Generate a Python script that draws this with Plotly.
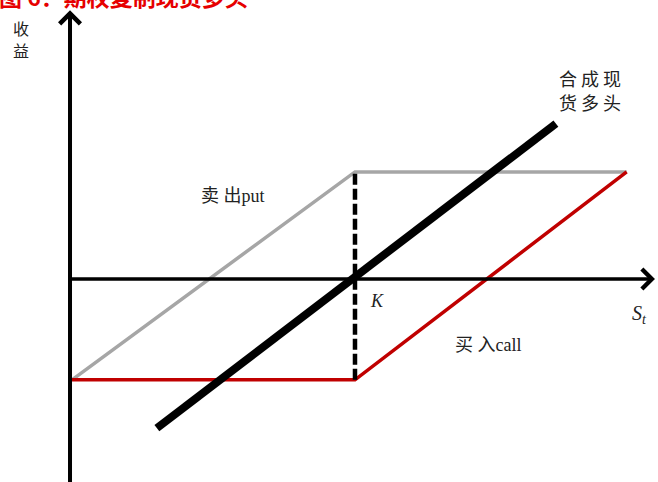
import plotly.graph_objects as go

# payoff diagram, strike K = 100
put_s = [0, 100, 196]
put_pay = [-48, 51, 51]      # short put (grey)
call_s = [0, 100, 196]
call_pay = [-48, -48, 51]    # long call (red)
spot_s = [30, 171]
spot_pay = [-71, 74]         # synthetic long spot (black)
strike = 100
strike_top = 51
strike_bottom = -48

CJK = "Noto Sans CJK SC"
SERIF = "Liberation Serif, Noto Sans CJK SC"

fig = go.Figure()

fig.add_trace(go.Scatter(x=put_s, y=put_pay, mode="lines",
                         line=dict(color="#a6a6a6", width=3.5)))
fig.add_trace(go.Scatter(x=call_s, y=call_pay, mode="lines",
                         line=dict(color="#c00000", width=3.5)))
fig.add_trace(go.Scatter(x=[strike, strike], y=[strike_bottom, strike_top], mode="lines",
                         line=dict(color="black", width=4.5, dash="11px,4px")))
fig.add_trace(go.Scatter(x=spot_s, y=spot_pay, mode="lines",
                         line=dict(color="black", width=8)))

ann = []
# axes with open arrow heads
ann.append(dict(x=-0.7, y=128, ax=-0.7, ay=-100, xref="x", yref="y", axref="x", ayref="y",
                text="", showarrow=True, arrowhead=4, arrowwidth=4, arrowsize=1,
                arrowcolor="black"))
ann.append(dict(x=206, y=0, ax=-0.7, ay=0, xref="x", yref="y", axref="x", ayref="y",
                text="", showarrow=True, arrowhead=4, arrowwidth=3.5, arrowsize=1.1,
                arrowcolor="black"))

labels = [
    ("收", -18, 119.5, CJK, 16),
    ("益", -18, 109, CJK, 16),
    ("卖 出put", 57, 39.5, SERIF, 18),
    ("买 入call", 147, -31.4, SERIF, 18),
    ("合 成 现", 183, 95.5, CJK, 18),
    ("货 多 头", 183, 84.5, CJK, 18),
    ("<i>K</i>", 107.8, -10.5, SERIF, 18),
    ("<i>S</i><sub><i>t</i></sub>", 200.7, -17, SERIF, 20),
]
for txt, sx, py, fam, size in labels:
    ann.append(dict(x=sx, y=py, xref="x", yref="y", text=txt, showarrow=False,
                    font=dict(family=fam, size=size, color="#222222")))

ann.append(dict(x=0, y=1, xref="paper", yref="paper", xanchor="left", yanchor="middle",
                xshift=-3, yshift=4, text="<b>图 6：期权复制现货多头</b>", showarrow=False,
                font=dict(family=CJK, size=23, color="#e60000")))

fig.update_layout(
    width=658, height=482,
    margin=dict(l=0, r=0, t=0, b=0),
    paper_bgcolor="white", plot_bgcolor="white",
    showlegend=False,
    annotations=ann,
    xaxis=dict(range=[-25.44, 207.07], visible=False, fixedrange=True),
    yaxis=dict(range=[-96.67, 132.86], visible=False, fixedrange=True),
)

fig.write_html("out.html", config={"displayModeBar": False},
               post_script="document.body.style.margin='0';")
